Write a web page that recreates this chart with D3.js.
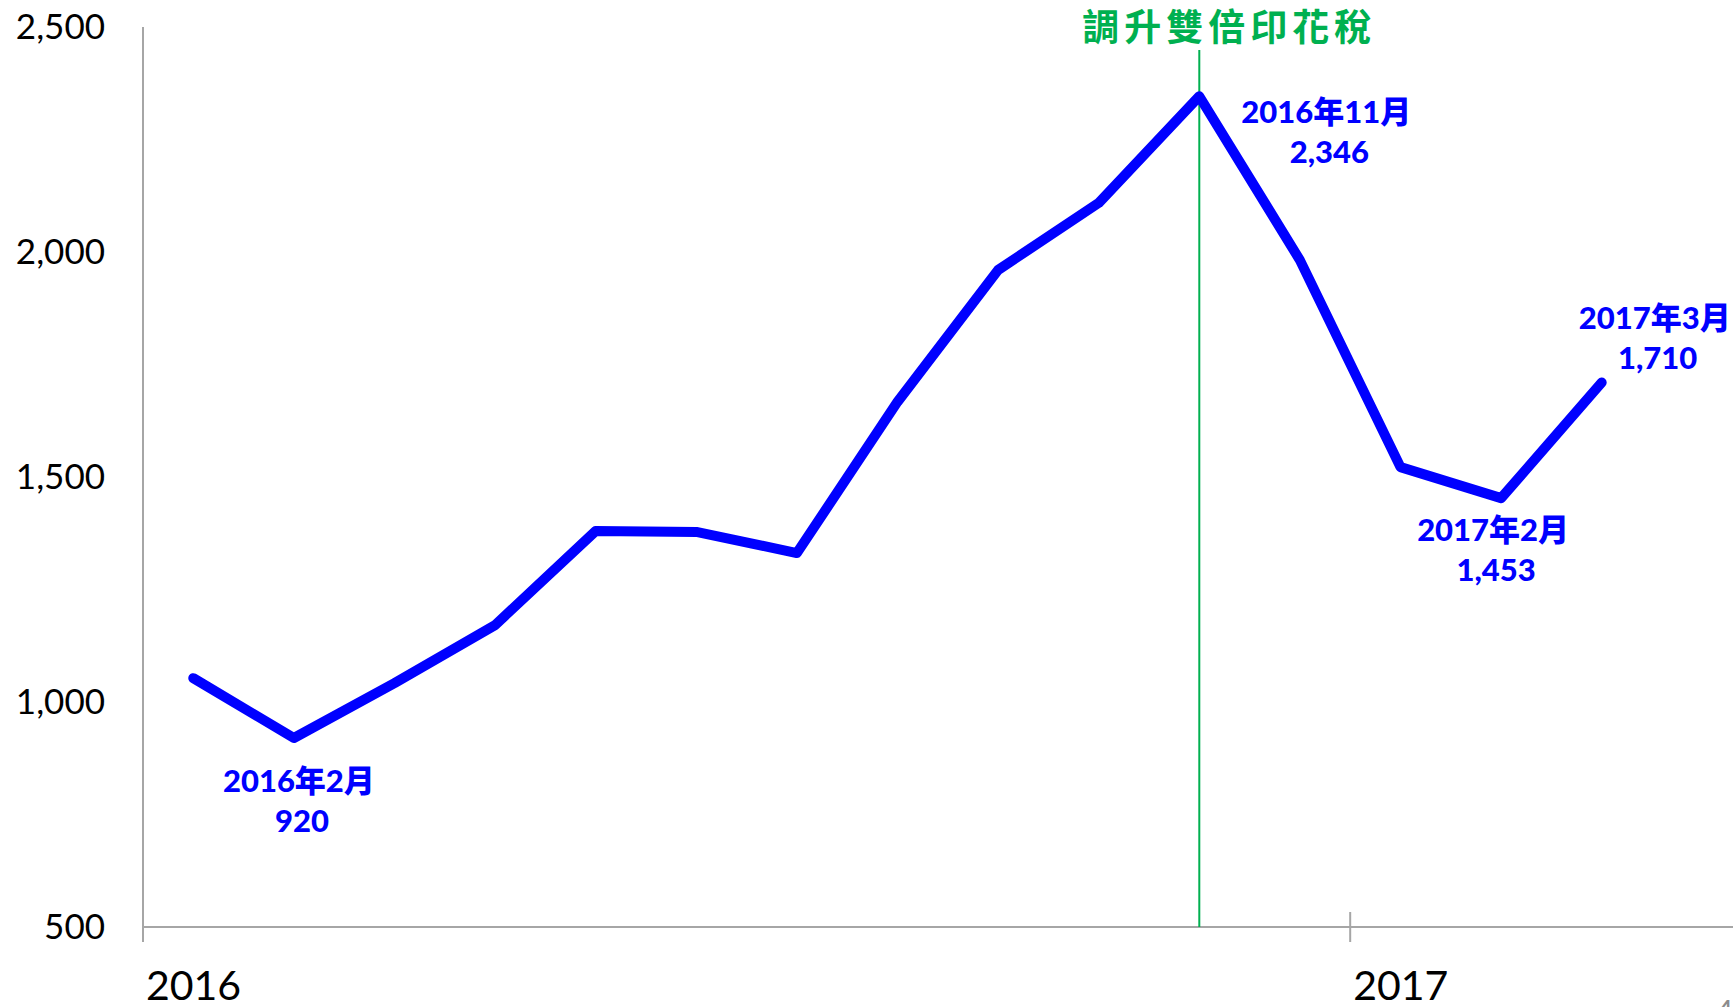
<!DOCTYPE html>
<html>
<head>
<meta charset="utf-8">
<script src="https://cdn.jsdelivr.net/npm/d3@7"></script>
<style>
  html, body { margin: 0; padding: 0; background: #fff; }
  svg { display: block; }
</style>
</head>
<body>
<svg id="chart" width="1733" height="1007"></svg>
<script>
// ---- data ----
const months = ["2016-01","2016-02","2016-03","2016-04","2016-05","2016-06","2016-07","2016-08","2016-09","2016-10","2016-11","2016-12","2017-01","2017-02","2017-03"];
const values = [1053, 920, 1042, 1171, 1380, 1378, 1331, 1667, 1960, 2109, 2346, 1982, 1522, 1453, 1710];
const yTicks = [500, 1000, 1500, 2000, 2500];
const yearTickMonths = ["2016-01", "2017-01"];
const yearLabels = ["2016", "2017"];
const annotMonths = ["2016-02", "2016-11", "2017-02", "2017-03"];
const annotTitles = ["2016年2月", "2016年11月", "2017年2月", "2017年3月"];
const eventMonth = "2016-11";
const eventLabel = "調升雙倍印花稅";
const pageNumber = "4";

// ---- layout ----
const W = 1733, H = 1007;
const left = 143, axisY = 927, topY = 27;
const step = 100.6;
const svg = d3.select("#chart");

const x = d3.scaleBand().domain(months).range([left, left + step * months.length]).paddingInner(0).paddingOuter(0);
const cx = m => x(m) + x.bandwidth() / 2;
const y = d3.scaleLinear().domain([500, 2500]).range([axisY, topY]);

const grey = "#a6a6a6";
const blue = "#0000ff";
const green = "#00b050";
const numFont = "Lato, 'Noto Sans CJK TC', sans-serif";

// y axis labels
const yAxis = d3.axisLeft(y).tickValues(yTicks).tickSize(0).tickPadding(38).tickFormat(d3.format(","));
const gy = svg.append("g").attr("transform", `translate(${left},0)`).call(yAxis);
gy.select(".domain").remove();
gy.selectAll("text").attr("font-family", numFont).attr("font-size", 35).attr("fill", "#000");

// axis lines
svg.append("line").attr("x1", left).attr("x2", left).attr("y1", y(2500)).attr("y2", axisY + 15)
  .attr("stroke", grey).attr("stroke-width", 2);
svg.append("line").attr("x1", left).attr("x2", W).attr("y1", axisY).attr("y2", axisY)
  .attr("stroke", grey).attr("stroke-width", 2);

// year ticks & labels
svg.selectAll("line.ytick").data(yearTickMonths).enter().append("line").attr("class", "ytick")
  .attr("x1", d => x(d)).attr("x2", d => x(d)).attr("y1", axisY - 15).attr("y2", axisY + 15)
  .attr("stroke", grey).attr("stroke-width", 2);
svg.selectAll("text.year").data(yearTickMonths).enter().append("text").attr("class", "year")
  .attr("x", d => x(d) + 3).attr("y", axisY + 73)
  .attr("font-family", numFont).attr("font-size", 41).attr("fill", "#000")
  .text((d, i) => yearLabels[i]);

// event line
svg.append("line").attr("x1", cx(eventMonth)).attr("x2", cx(eventMonth)).attr("y1", 50).attr("y2", axisY)
  .attr("stroke", green).attr("stroke-width", 2);
svg.append("text").attr("x", cx(eventMonth) + 30).attr("y", 25)
  .attr("text-anchor", "middle").attr("dominant-baseline", "central")
  .attr("font-family", "'Noto Sans CJK TC', sans-serif").attr("font-size", 37).attr("font-weight", 700)
  .attr("letter-spacing", 5).attr("fill", green).text(eventLabel);

// data line
const line = d3.line().x((d, i) => cx(months[i])).y(d => y(d));
svg.append("path").datum(values).attr("d", line)
  .attr("fill", "none").attr("stroke", blue).attr("stroke-width", 10)
  .attr("stroke-linecap", "round").attr("stroke-linejoin", "round");

// annotations
const offsets = [[5, 42], [127, 15], [-8, 31], [53, -66]];
const fmt = d3.format(",");
annotMonths.forEach((m, i) => {
  const idx = months.indexOf(m);
  const px = cx(m), py = y(values[idx]);
  const [dx, dy] = offsets[i];
  const t = svg.append("text").attr("text-anchor", "middle")
    .attr("font-family", numFont).attr("font-weight", 900).attr("font-size", 31).attr("fill", blue);
  t.append("tspan").attr("x", px + dx).attr("y", py + dy).attr("dominant-baseline", "central").text(annotTitles[i]);
  t.append("tspan").attr("x", px + dx + 3).attr("y", py + dy + 40).attr("dominant-baseline", "central").text(fmt(values[idx]));
});

// page number
svg.append("text").attr("x", 1716).attr("y", 1022).attr("font-family", numFont)
  .attr("font-size", 30).attr("fill", "#8c8c8c").text(pageNumber);
</script>
</body>
</html>
